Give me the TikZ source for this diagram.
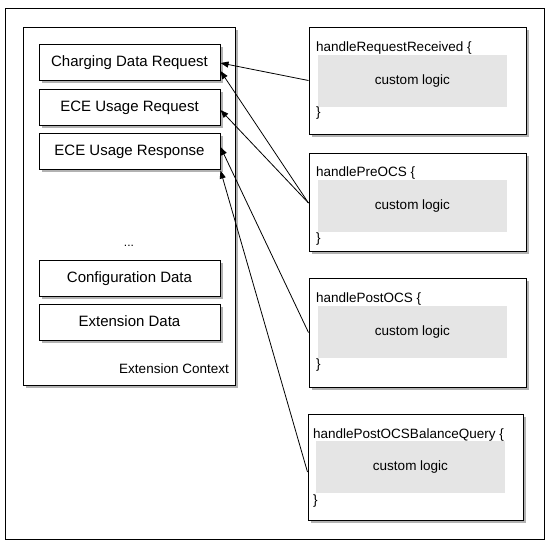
\documentclass[tikz,border=0pt]{standalone}
\usepackage{fontspec}
\setmainfont{Liberation Sans}
\usetikzlibrary{shadows,arrows.meta}
\begin{document}
\begin{tikzpicture}[x=1pt,y=-1pt,
  sh/.style={drop shadow={shadow xshift=3pt,shadow yshift=-3pt,fill=black!30,opacity=1}},
  frame/.style={draw,line width=1pt,inner sep=0pt},
  ctxbox/.style={draw,line width=1pt,fill=white,inner sep=0pt,sh},
  databox/.style={draw,line width=1pt,fill=white,minimum width=181pt,minimum height=36pt,inner sep=0pt,text height=11pt,text depth=2pt,font=\fontsize{15}{18}\selectfont,sh},
  hbox/.style={draw,line width=1pt,fill=white,minimum width=217pt,inner sep=0pt,sh},
  logic/.style={fill=black!10,minimum width=189pt,minimum height=52pt,inner sep=0pt,font=\fontsize{13.5}{16}\selectfont},
  code/.style={anchor=west,inner sep=0pt,font=\fontsize{13.5}{16}\selectfont},
  arr/.style={-{Triangle[length=8pt,width=6pt]},line width=0.8pt}
]
\useasboundingbox (0,0) rectangle (550,544);
\node[frame,minimum width=539pt,minimum height=531pt] (outer) at (274.5,273.5) {};

% extension context
\node[ctxbox,minimum width=212pt,minimum height=358pt] (ctx) at (129,206) {};
\node[databox] (cdr) at (129.5,62) {Charging Data Request};
\node[databox] (eur) at (129.5,107) {ECE Usage Request};
\node[databox] (eus) at (129.5,151) {ECE Usage Response};
\node[inner sep=0pt,font=\fontsize{12}{14}\selectfont] (dots) at (129,246) {...};
\node[databox] (cfg) at (129.5,278) {Configuration Data};
\node[databox] (ext) at (129.5,322) {Extension Data};
\node[code,anchor=east] (ctxlabel) at (229,369) {Extension Context};

% handlers
\node[hbox,minimum height=107pt] (h1) at (417.5,80.5) {};
\node[logic] (g1) at (412.5,81) {custom logic};
\node[code] (t1) at (316,48) {handleRequestReceived \{};
\node[code] (b1) at (316,113) {\}};

\node[hbox,minimum height=98pt] (h2) at (417.5,202) {};
\node[logic] (g2) at (412.5,206) {custom logic};
\node[code] (t2) at (316,173) {handlePreOCS \{};
\node[code] (b2) at (316,239) {\}};

\node[hbox,minimum height=109pt] (h3) at (417.5,332.5) {};
\node[logic] (g3) at (412.5,332) {custom logic};
\node[code] (t3) at (316,299) {handlePostOCS \{};
\node[code] (b3) at (316,365) {\}};

\node[hbox,minimum width=215pt,minimum height=106pt] (h4) at (415.5,467) {};
\node[logic] (g4) at (410.5,467) {custom logic};
\node[code] (t4) at (313,435) {handlePostOCSBalanceQuery \{};
\node[code] (b4) at (313,501) {\}};

% connectors
\draw[arr] (h1.west) -- ([yshift=-1pt]cdr.east);
\draw[arr] ([yshift=-1pt]h2.west) -- ([yshift=-9pt]cdr.east);
\draw[arr] ([yshift=-1pt]h2.west) -- ([yshift=-3pt]eur.east);
\draw[arr] (h3.west) -- ([yshift=4pt]eus.east);
\draw[arr] ([yshift=-5pt]h4.west) -- ([yshift=-1pt]eus.south east);
\end{tikzpicture}
\end{document}
